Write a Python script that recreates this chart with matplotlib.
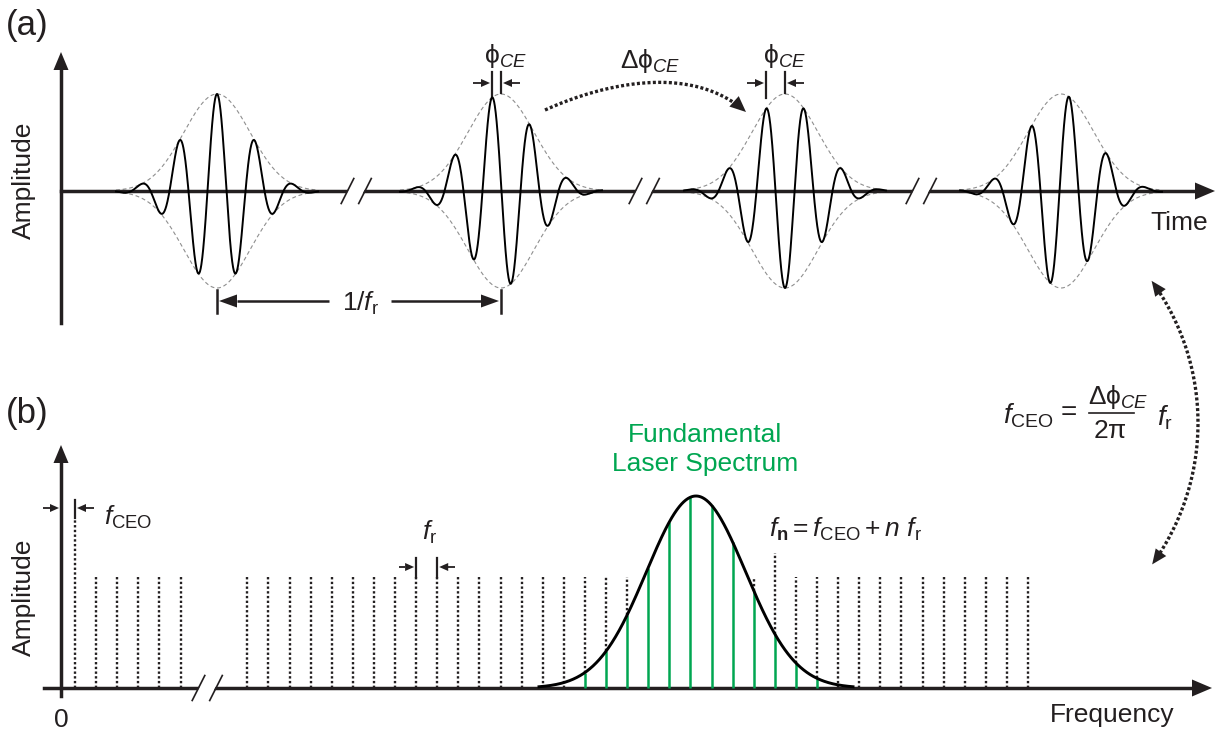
import numpy as np
import matplotlib.pyplot as plt
from matplotlib.patches import Polygon

plt.rcParams['font.family'] = ['Liberation Sans', 'DejaVu Sans']
plt.rcParams['mathtext.fontset'] = 'custom'
plt.rcParams['mathtext.rm'] = 'Liberation Sans'
plt.rcParams['mathtext.it'] = 'Liberation Sans:italic'
plt.rcParams['mathtext.bf'] = 'Liberation Sans:bold'

# ---- (a) pulse train (drawing units = pixels) ----
time_axis_y = 191
pulse_centres = [217, 501, 785, 1061]
carrier_shift = [0, -9, -19, 8]     # carrier peak offset from envelope peak
pulse_amp = 97
pulse_sigma = 33
carrier_period = 38
time_breaks = [356, 644, 921]

# ---- (b) frequency comb ----
freq_axis_y = 688
f_ceo_line = 75
low_lines = [96, 117, 138, 159, 181]
comb_start = 247.3
comb_step = 21.1
comb_count = 38
comb_top = 577
f_ceo_top = 518
fn_index = 25
fn_top = 553
fr_pair = (8, 9)
spec_centre = 696
spec_height = 192
spec_sigma = 49.5
green_first, green_last = 16, 27
freq_breaks = [207]

GREEN = '#00a651'
GREY = '#8f8f8f'
INK = '#231f20'

fig = plt.figure(figsize=(12.25, 7.35), dpi=100)
ax = fig.add_axes([0, 0, 1, 1])
ax.set_xlim(0, 1225)
ax.set_ylim(735, 0)
ax.axis('off')


def head(tip, direction, length=18, width=15, z=6):
    d = np.asarray(direction, float)
    d = d / np.hypot(*d)
    n = np.array([-d[1], d[0]])
    tip = np.asarray(tip, float)
    base = tip - d * length
    ax.add_patch(Polygon([tip, base + n * width / 2, base - n * width / 2],
                         closed=True, facecolor=INK, edgecolor='none', zorder=z))
    return base


def arrow(x0, y0, x1, y1, lw=1.8, length=18, width=13):
    base = head((x1, y1), (x1 - x0, y1 - y0), length, width)
    ax.plot([x0, base[0]], [y0, base[1]], color=INK, lw=lw, solid_capstyle='butt', zorder=5)


def axis_break(cx, cy):
    ax.add_patch(Polygon([(cx - 10, cy + 4), (cx - 6, cy - 4), (cx + 10, cy - 4), (cx + 6, cy + 4)],
                         closed=True, facecolor='white', edgecolor='none', zorder=4))
    for dx in (0, 17.5):
        ax.plot([cx - 14.8 + dx, cx - 2.2 + dx], [cy + 12.5, cy - 12.5],
                color=INK, lw=1.2, zorder=5)


def dotted_path(xs, ys, lw=2.4):
    ax.plot(xs, ys, color=INK, lw=lw, dashes=(0.9, 0.7), dash_capstyle='butt', zorder=5)


# axes of panel (a)
ax.plot([61, 61], [323, 70], color=INK, lw=2.5, zorder=3)
head((61, 52), (0, -1))
ax.plot([61, 1196], [time_axis_y, time_axis_y], color=INK, lw=2.5, zorder=3)
head((1215, time_axis_y), (1, 0), 20, 17)
for b in time_breaks:
    axis_break(b, time_axis_y)

# pulses with their envelopes
for c, s in zip(pulse_centres, carrier_shift):
    t = np.linspace(-101, 101, 900)
    env = pulse_amp * np.exp(-t ** 2 / (2 * pulse_sigma ** 2))
    wave = env * np.cos(2 * np.pi * (t - s) / carrier_period)
    ax.plot(c + t, time_axis_y - env, color=GREY, lw=0.8, dashes=(3.5, 2.5), zorder=2)
    ax.plot(c + t, time_axis_y + env, color=GREY, lw=0.8, dashes=(3.5, 2.5), zorder=2)
    ax.plot(c + t, time_axis_y - wave, color='black', lw=1.4, zorder=4)

# carrier-envelope phase markers on pulses 2 and 3
for i in (1, 2):
    xl = pulse_centres[i] + carrier_shift[i]
    xr = pulse_centres[i]
    ax.plot([xl, xl], [72, 98], color=INK, lw=1.6)
    ax.plot([xr, xr], [72, 93], color=INK, lw=1.6)
    arrow(xl - 19, 83, xl - 2, 83, lw=1.3, length=9, width=8)
    arrow(xr + 19, 83, xr + 2, 83, lw=1.3, length=9, width=8)
    ax.text((xl + xr) / 2 + 9, 63, r'$\mathrm{\phi}_{CE}$', fontsize=19, ha='center',
            va='baseline', color=INK)

# pulse spacing 1/f_r
p0, p1 = pulse_centres[0], pulse_centres[1]
ax.plot([p0, p0], [290, 313], color=INK, lw=1.8)
ax.plot([p1, p1], [290, 313], color=INK, lw=1.8)
arrow(329, 301, p0 + 2, 301)
arrow(391, 301, p1 - 2, 301)
ax.text((p0 + p1) / 2 + 2, 311, r'1/$f_\mathrm{r}$', fontsize=19, ha='center', va='baseline',
        color=INK)

# Delta phi arrow between pulses 2 and 3
tb = np.linspace(0, 0.93, 200)
P = np.array([(545, 110), (600, 85), (690, 62), (746, 112)], float)
bez = ((1 - tb) ** 3)[:, None] * P[0] + (3 * (1 - tb) ** 2 * tb)[:, None] * P[1] \
    + (3 * (1 - tb) * tb ** 2)[:, None] * P[2] + (tb ** 3)[:, None] * P[3]
dotted_path(bez[:, 0], bez[:, 1])
head(P[3], P[3] - P[2], 16, 14)
ax.text(650, 68, r'$\mathrm{\Delta\phi}_{CE}$', fontsize=19, ha='center', va='baseline', color=INK)

ax.text(6, 35, '(a)', fontsize=25, ha='left', va='baseline', color=INK)
ax.text(24, 180, 'Amplitude', fontsize=19, rotation=90, ha='center', va='center', color=INK)
ax.text(1150, 230, 'Time', fontsize=19, ha='left', va='baseline', color=INK)

# ---- panel (b) ----
ax.plot([61, 61], [696, 462], color=INK, lw=2.5, zorder=3)
head((61, 445), (0, -1))
ax.plot([44, 1192], [freq_axis_y, freq_axis_y], color=INK, lw=2.5, zorder=3)
head((1212, freq_axis_y), (1, 0), 20, 17)
for b in freq_breaks:
    axis_break(b, freq_axis_y)

# spectral envelope
fs = np.linspace(spec_centre - 157, spec_centre + 157, 600)
spec = spec_height * np.exp(-(fs - spec_centre) ** 2 / (2 * spec_sigma ** 2))

comb = comb_start + comb_step * np.arange(comb_count)
under = np.zeros(comb_count)
under[green_first:green_last + 1] = np.interp(comb[green_first:green_last + 1], fs, spec)
dotted_from = freq_axis_y - under
show = dotted_from > comb_top

dots = (0, (1.0, 1.0))
ax.vlines([f_ceo_line], freq_axis_y, f_ceo_top, color=INK, lw=1.7, linestyles=[dots], zorder=2)
ax.vlines(low_lines, freq_axis_y, comb_top, color=INK, lw=1.7, linestyles=[dots], zorder=2)
ax.vlines(comb[show], dotted_from[show], comb_top, color=INK, lw=1.7, linestyles=[dots], zorder=2)
ax.vlines([comb[fn_index]], comb_top, fn_top, color=INK, lw=1.7, linestyles=[dots], zorder=2)

# modes under the spectrum
green = comb[green_first:green_last + 1]
ax.vlines(green, freq_axis_y, freq_axis_y - under[green_first:green_last + 1],
          color=GREEN, lw=1.8, zorder=3)
ax.plot(fs, freq_axis_y - spec, color='black', lw=2.1, zorder=4)
ax.text(spec_centre + 9, 442, 'Fundamental', fontsize=19, color=GREEN, ha='center', va='baseline')
ax.text(spec_centre + 9, 471, 'Laser Spectrum', fontsize=19, color=GREEN, ha='center', va='baseline')

# offset frequency marker
ax.plot([f_ceo_line, f_ceo_line], [500, 518], color=INK, lw=1.6)
arrow(43, 508, 59, 508, lw=1.3, length=9, width=8)
arrow(94, 508, 77, 508, lw=1.3, length=9, width=8)
ax.text(104, 525, r'$f_\mathrm{CEO}$', fontsize=19, ha='left', va='baseline', color=INK)

# repetition rate marker
xa, xb = comb[fr_pair[0]], comb[fr_pair[1]]
ax.plot([xa, xa], [558, 577], color=INK, lw=1.6)
ax.plot([xb, xb], [558, 577], color=INK, lw=1.6)
arrow(xa - 17, 567, xa - 2, 567, lw=1.3, length=9, width=8)
arrow(xb + 18, 567, xb + 2, 567, lw=1.3, length=9, width=8)
ax.text((xa + xb) / 2 + 3, 540, r'$f_\mathrm{r}$', fontsize=19, ha='center', va='baseline',
        color=INK)

ax.text(769, 537, r'$f_\mathbf{n} = f_\mathrm{CEO} + n\ f_\mathrm{r}$', fontsize=19, ha='left',
        va='baseline', color=INK)

# f_CEO formula and the curved arrow tying both panels
ax.text(1003, 423, r'$f_\mathrm{CEO}$', fontsize=20, ha='left', va='baseline', color=INK)
ax.text(1069, 420, '=', fontsize=20, ha='center', va='baseline', color=INK)
ax.text(1088, 404, r'$\mathrm{\Delta\phi}_{CE}$', fontsize=19, ha='left', va='baseline', color=INK)
ax.plot([1089, 1134], [413, 413], color=INK, lw=1.2)
ax.text(1110, 438, r'$2\mathrm{\pi}$', fontsize=19, ha='center', va='baseline', color=INK)
ax.text(1157, 425, r'$f_\mathrm{r}$', fontsize=20, ha='left', va='baseline', color=INK)

arc_c = np.array([957.0, 423.0])
arc_r = 241.0
a0, a1 = np.arctan2(282 - 423, 1150 - 957), np.arctan2(565 - 423, 1153 - 957)
ang = np.linspace(a0 + 0.06, a1 - 0.06, 300)
dotted_path(arc_c[0] + arc_r * np.cos(ang), arc_c[1] + arc_r * np.sin(ang))
for a, sgn in ((a0, -1), (a1, 1)):
    tip = arc_c + arc_r * np.array([np.cos(a), np.sin(a)])
    head(tip, sgn * np.array([-np.sin(a), np.cos(a)]), 15, 13)

ax.text(6, 423, '(b)', fontsize=25, ha='left', va='baseline', color=INK)
ax.text(24, 597, 'Amplitude', fontsize=19, rotation=90, ha='center', va='center', color=INK)
ax.text(61, 727, '0', fontsize=19, ha='center', va='baseline', color=INK)
ax.text(1050, 722, 'Frequency', fontsize=19, ha='left', va='baseline', color=INK)

fig.savefig('out.png', dpi=100)
